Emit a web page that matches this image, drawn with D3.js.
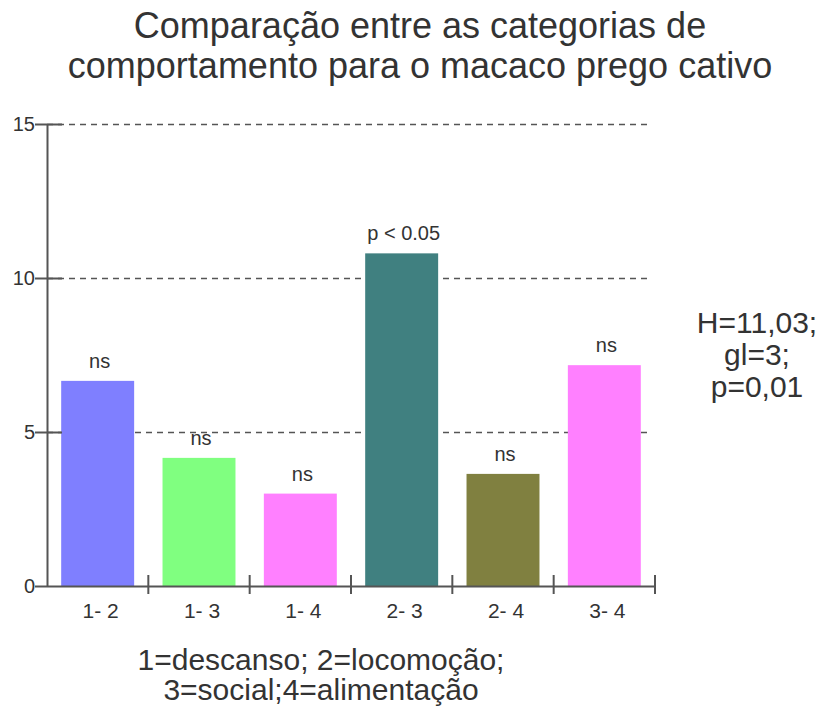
<!DOCTYPE html>
<html><head><meta charset="utf-8">
<script src="https://cdn.jsdelivr.net/npm/d3@7"></script>
<style>body{margin:0;background:#fff}svg{display:block}text{font-family:"Liberation Sans",Arial,sans-serif;fill:#333}</style>
</head><body>
<svg id="c" width="822" height="708"></svg>
<script>
const categories = ["1- 2","1- 3","1- 4","2- 3","2- 4","3- 4"];
const values = [6.66, 4.16, 3.0, 10.8, 3.64, 7.17];
const barLabels = ["ns","ns","ns","p < 0.05","ns","ns"];
const colors = ["#7f7fff","#80ff80","#ff80ff","#408080","#808040","#ff80ff"];
const yTicks = [0,5,10,15];
const titleLines = ["Comparação entre as categorias de","comportamento para o macaco prego cativo"];
const statLines = ["H=11,03;","gl=3;","p=0,01"];
const noteLines = ["1=descanso; 2=locomoção;","3=social;4=alimentação"];

const svg = d3.select("#c");
const x0 = 47, x1 = 655, yb = 586, yt = 124;
const x = d3.scaleBand().domain(categories).range([x0,x1]).paddingInner(0.28).paddingOuter(0.14);
const y = d3.scaleLinear().domain([0,15]).range([yb,yt]);
const axisColor = "#555";

// gridlines
svg.append("g").selectAll("line").data(yTicks.filter(d=>d>0)).join("line")
  .attr("x1", x0).attr("x2", 652).attr("y1", d=>y(d)+0.5).attr("y2", d=>y(d)+0.5)
  .attr("stroke", axisColor).attr("stroke-width",1.5).attr("stroke-dasharray","6,5");

// bars
svg.append("g").selectAll("rect").data(values).join("rect")
  .attr("x", (d,i)=>x(categories[i])).attr("width", x.bandwidth())
  .attr("y", d=>y(d)).attr("height", d=>yb-y(d))
  .attr("fill", (d,i)=>colors[i]);

// bar labels
svg.append("g").selectAll("text").data(values).join("text")
  .attr("x", (d,i)=>x(categories[i])+x.bandwidth()/2+2)
  .attr("y", d=>y(d)-13)
  .attr("text-anchor","middle").attr("font-size",20)
  .text((d,i)=>barLabels[i]);

// y axis
const ya = svg.append("g");
ya.append("line").attr("x1",x0+0.5).attr("x2",x0+0.5).attr("y1",yt).attr("y2",yb)
  .attr("stroke",axisColor).attr("stroke-width",2);
ya.selectAll("line.t").data(yTicks).join("line").attr("class","t")
  .attr("x1",35).attr("x2",d=>d===0?x0:62).attr("y1",d=>y(d)+0.5).attr("y2",d=>y(d)+0.5)
  .attr("stroke",axisColor).attr("stroke-width",2);
ya.selectAll("text").data(yTicks).join("text")
  .attr("x",35).attr("y",d=>y(d)+7).attr("text-anchor","end").attr("font-size",20)
  .text(d=>d);

// x axis
const xa = svg.append("g");
xa.append("line").attr("x1",x0).attr("x2",x1).attr("y1",yb+0.5).attr("y2",yb+0.5)
  .attr("stroke",axisColor).attr("stroke-width",2);
xa.selectAll("line.t").data(categories).join("line").attr("class","t")
  .attr("x1",d=>x(d)+x.step()*0.86).attr("x2",d=>x(d)+x.step()*0.86)
  .attr("y1",yb-11).attr("y2",yb+8).attr("stroke",axisColor).attr("stroke-width",2);
xa.selectAll("text").data(categories).join("text")
  .attr("x",d=>x(d)+x.bandwidth()/2+3).attr("y",618).attr("text-anchor","middle").attr("font-size",21)
  .text(d=>d);

// title
svg.append("g").selectAll("text").data(titleLines).join("text")
  .attr("x",420).attr("y",(d,i)=>38+i*40).attr("text-anchor","middle").attr("font-size",36).text(d=>d);
// stats
svg.append("g").selectAll("text").data(statLines).join("text")
  .attr("x",757).attr("y",(d,i)=>333+i*32).attr("text-anchor","middle").attr("font-size",30).text(d=>d);
// note
svg.append("g").selectAll("text").data(noteLines).join("text")
  .attr("x",321).attr("y",(d,i)=>670+i*30).attr("text-anchor","middle").attr("font-size",30).text(d=>d);
</script>
</body></html>
